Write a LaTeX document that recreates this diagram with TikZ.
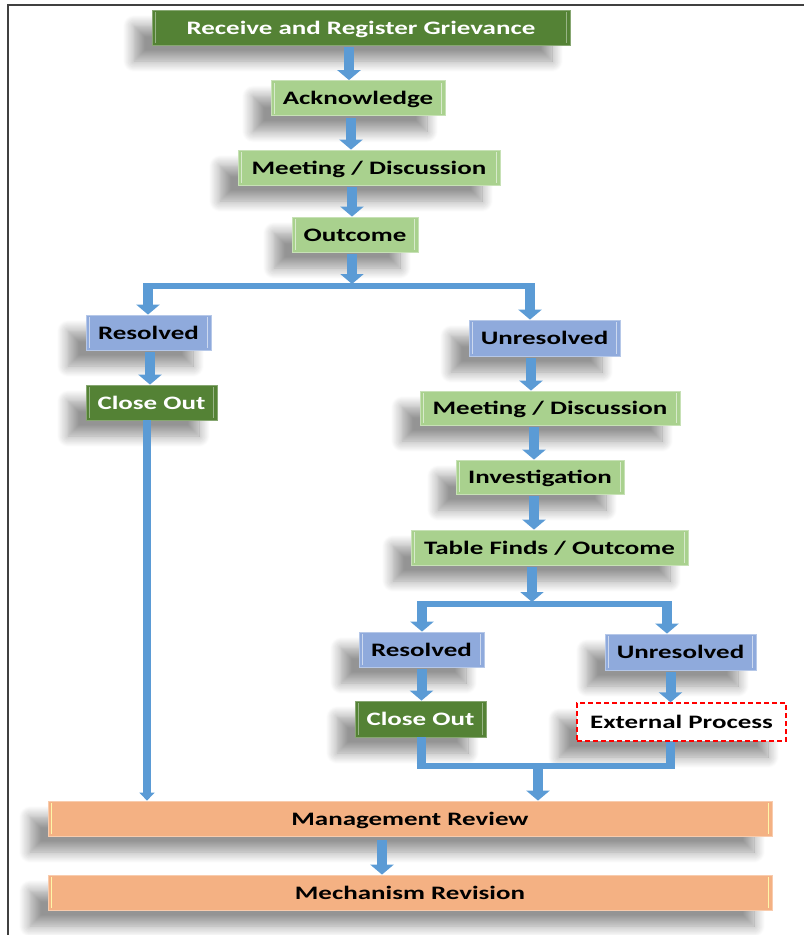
\documentclass[tikz,border=0pt]{standalone}
\usepackage{fontspec}
\setmainfont{Carlito}[FakeStretch=1.42]
\usetikzlibrary{arrows.meta,shadows.blur}
\definecolor{dkgreen}{HTML}{548235}
\definecolor{ltgreen}{HTML}{A9D18E}
\definecolor{bxblue}{HTML}{8FAADC}
\definecolor{orng}{HTML}{F4B183}
\definecolor{arblue}{HTML}{5B9BD5}
\tikzset{
  base/.style={rectangle, inner sep=0pt, minimum height=35pt, line width=0.8pt,
    text height=15pt, text depth=1.5pt,
    font=\bfseries\fontsize{19}{21}\selectfont,
    blur shadow={shadow xshift=-18pt, shadow yshift=-16pt, shadow blur radius=11pt, shadow opacity=42, shadow blur steps=12}},
  bevel/.style={path picture={
    \draw[#1,line width=1pt] ([xshift=3.5pt,yshift=2pt]path picture bounding box.south west) -- ([xshift=3.5pt,yshift=-2pt]path picture bounding box.north west);
    \draw[#1,line width=1pt] ([xshift=-3.5pt,yshift=2pt]path picture bounding box.south east) -- ([xshift=-3.5pt,yshift=-2pt]path picture bounding box.north east);}},
  dkbox/.style={base, fill=dkgreen, draw=dkgreen!70!white, text=white, bevel=dkgreen!60!white},
  ltbox/.style={base, fill=ltgreen, draw=ltgreen!65!white, bevel=ltgreen!45!white},
  blbox/.style={base, fill=bxblue, draw=bxblue!65!white, bevel=bxblue!45!white},
  orbox/.style={base, fill=orng, draw=orng!65!white, bevel=orng!30!yellow!40!white},
  extbox/.style={base, fill=white, draw=red, dashed, dash pattern=on 5pt off 3pt, line width=1.4pt},
  arr/.style={draw=arblue, line width=10pt, -{Triangle[width=23pt,length=10pt]}},
  thinarr/.style={draw=arblue, line width=8pt, -{Triangle[width=15pt,length=8pt]}},
  hline/.style={draw=arblue, line width=6pt},
  vline/.style={draw=arblue, line width=9pt},
  frameline/.style={draw=black!75, line width=1.5pt}
}
\begin{document}
\begin{tikzpicture}[x=1pt,y=-1pt]
\useasboundingbox (0,0) rectangle (804,935);
\draw[frameline] (8,935) -- (8,5) -- (804,5);

\node[dkbox, minimum width=418pt] (recv) at (361,27.5) {Receive and Register Grievance};
\node[ltbox, minimum width=174pt] (ack) at (358,98) {Acknowledge};
\node[ltbox, minimum width=262pt] (meet1) at (369,167.5) {Meeting / Discussion};
\node[ltbox, minimum width=126pt] (outc) at (355,234.5) {Outcome};
\node[blbox, minimum width=125pt] (res1) at (148.5,332.5) {Resolved};
\node[dkbox, minimum width=131pt] (close1) at (151.5,402.5) {Close Out};
\node[blbox, minimum width=151pt, minimum height=36pt] (unres1) at (544.5,338) {Unresolved};
\node[ltbox, minimum width=260pt, minimum height=34pt] (meet2) at (550,408) {Meeting / Discussion};
\node[ltbox, minimum width=168pt, minimum height=34pt] (inv) at (540,477) {Investigation};
\node[ltbox, minimum width=277pt] (table) at (549.5,547.5) {Table Finds / Outcome};
\node[blbox, minimum width=125pt] (res2) at (421.5,649.5) {Resolved};
\node[blbox, minimum width=151pt, minimum height=36pt] (unres2) at (680.5,652) {Unresolved};
\node[dkbox, minimum width=131pt, minimum height=36pt] (close2) at (420.5,719) {Close Out};
\node[extbox, minimum width=209pt, minimum height=38pt] (ext) at (681.5,722) {External Process};
\node[orbox, minimum width=724pt] (mgmt) at (410,818.5) {Management Review};
\node[orbox, minimum width=724pt] (mech) at (410,892.5) {Mechanism Revision};

\coordinate (j1) at (352,286);
\coordinate (b1l) at (148,286);
\coordinate (b1r) at (530,286);
\coordinate (j2) at (532,604);
\coordinate (b2l) at (422,604);
\coordinate (b2r) at (667,604);
\coordinate (m2l) at (421,766);
\coordinate (m2r) at (670,766);
\coordinate (m2c) at (538,766);

\draw[arr, shorten <=2pt] ([xshift=-12pt]recv.south) -- ([xshift=-12pt]recv.south |- ack.north);
\draw[arr, shorten <=2pt] ([xshift=-7pt]ack.south) -- ([xshift=-7pt]ack.south |- meet1.north);
\draw[arr, shorten <=2pt] ([xshift=-17pt]meet1.south) -- ([xshift=-17pt]meet1.south |- outc.north);
\draw[arr, shorten <=2pt] (outc.south -| j1) -- ([yshift=2pt]j1);
\draw[hline] ([xshift=-5pt]b1l) -- ([xshift=5pt]b1r);
\draw[arr] ([yshift=3pt]b1l) -- (b1l |- res1.north);
\draw[arr] ([yshift=3pt]b1r) -- (b1r |- unres1.north);
\draw[arr, shorten <=2pt] ([xshift=1.5pt]res1.south) -- ([xshift=1.5pt]res1.south |- close1.north);
\draw[thinarr] ([xshift=-4.5pt]close1.south) -- ([xshift=-4.5pt]close1.south |- mgmt.north);
\draw[arr, shorten <=2pt] ([xshift=-13.5pt]unres1.south) -- ([xshift=-13.5pt]unres1.south |- meet2.north);
\draw[arr, shorten <=2pt] ([xshift=-16pt]meet2.south) -- ([xshift=-16pt]meet2.south |- inv.north);
\draw[arr, shorten <=2pt] ([xshift=-6pt]inv.south) -- ([xshift=-6pt]inv.south |- table.north);
\draw[arr, shorten <=2pt] (table.south -| j2) -- ([yshift=2pt]j2);
\draw[hline] ([xshift=-5pt]b2l) -- ([xshift=5pt]b2r);
\draw[arr] ([yshift=3pt]b2l) -- (b2l |- res2.north);
\draw[arr] ([yshift=3pt]b2r) -- (b2r |- unres2.north);
\draw[arr, shorten <=2pt] (res2.south) -- (res2.south |- close2.north);
\draw[arr, shorten <=2pt] ([xshift=-10pt]unres2.south) -- ([xshift=-10pt]unres2.south |- ext.north);
\draw[vline] (close2.south -| m2l) -- ([yshift=-3pt]m2l);
\draw[vline] (ext.south -| m2r) -- ([yshift=-3pt]m2r);
\draw[hline] ([xshift=-4.5pt]m2l) -- ([xshift=4.5pt]m2r);
\draw[arr] ([yshift=3pt]m2c) -- (m2c |- mgmt.north);
\draw[arr, shorten <=4pt] ([xshift=-28pt]mgmt.south) -- ([xshift=-28pt]mgmt.south |- mech.north);
\end{tikzpicture}
\end{document}
